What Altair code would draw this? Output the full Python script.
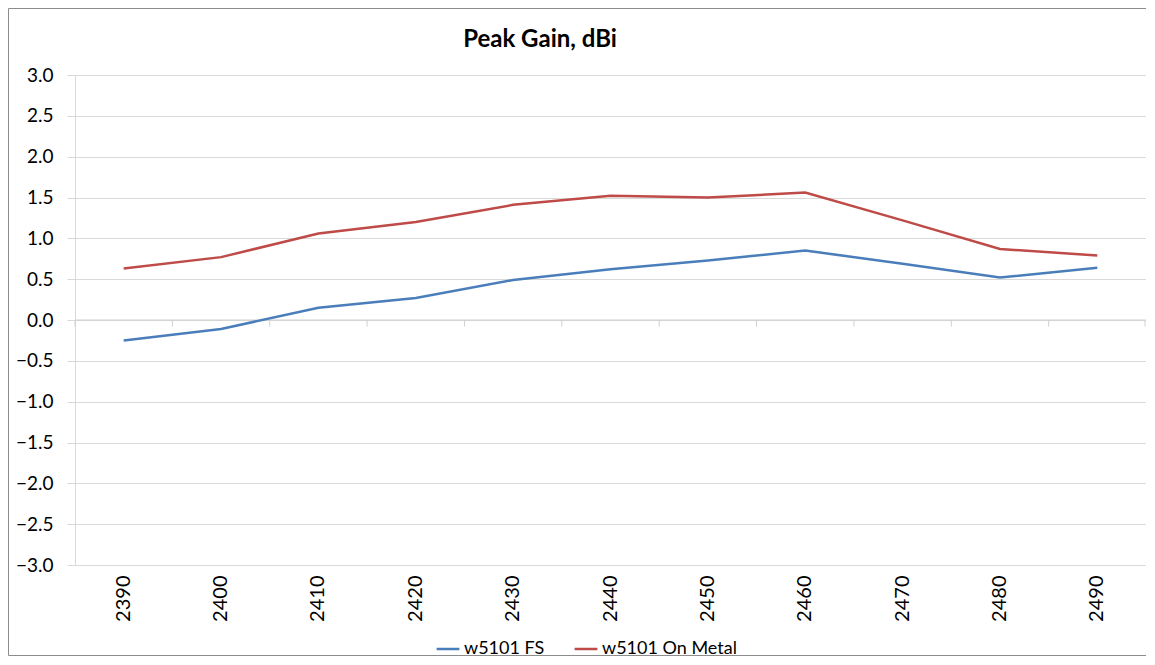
import altair as alt
import pandas as pd

freqs = ["2390", "2400", "2410", "2420", "2430", "2440", "2450", "2460", "2470", "2480", "2490"]
fs_gain = [-0.25, -0.11, 0.15, 0.27, 0.49, 0.62, 0.73, 0.85, 0.69, 0.52, 0.64]
metal_gain = [0.63, 0.77, 1.06, 1.20, 1.41, 1.52, 1.50, 1.56, 1.22, 0.87, 0.79]
series_names = ["w5101 FS", "w5101 On Metal"]
series_colors = ["#4a7ebb", "#be4b48"]
y_ticks = [-3.0, -2.5, -2.0, -1.5, -1.0, -0.5, 0.0, 0.5, 1.0, 1.5, 2.0, 2.5, 3.0]
title_text = "Peak Gain, dBi"

rows = []
for f, v in zip(freqs, fs_gain):
    rows.append({"freq": f, "gain": v, "series": series_names[0]})
for f, v in zip(freqs, metal_gain):
    rows.append({"freq": f, "gain": v, "series": series_names[1]})
df = pd.DataFrame(rows)
cats = pd.DataFrame({"freq": freqs})
one = pd.DataFrame({"label": [title_text]})

W, H = 1071, 490
FONT = "Lato"

xscale = alt.Scale(type="band", domain=freqs, paddingInner=0, paddingOuter=0)
yscale = alt.Scale(domain=[-3, 3], nice=False, zero=False)
x_axis = alt.Axis(title=None, labelAngle=-90, labelPadding=10, ticks=False,
                  domain=False, grid=False, labelFont=FONT, labelFontSize=20,
                  labelColor="#000000")
y_axis = alt.Axis(title=None, values=y_ticks, format=".1f", grid=True,
                  gridColor="#d9d9d9", domainColor="#d9d9d9", tickColor="#d9d9d9",
                  tickSize=8, labelPadding=14, labelFont=FONT, labelFontSize=19,
                  labelColor="#000000")

lines = alt.Chart(df).mark_line(strokeWidth=2.5).encode(
    x=alt.X("freq:O", scale=xscale, sort=freqs, bandPosition=0.5, axis=x_axis),
    y=alt.Y("gain:Q", scale=yscale, axis=y_axis),
    color=alt.Color("series:N", scale=alt.Scale(domain=series_names, range=series_colors),
                    sort=series_names,
                    legend=alt.Legend(title=None, orient="none", legendX=360, legendY=561,
                                      direction="horizontal", symbolType="stroke",
                                      symbolStrokeWidth=2.5, symbolSize=520,
                                      labelFont=FONT, labelFontSize=18, labelColor="#000000",
                                      columnPadding=24, labelOffset=3)),
)

zero_line = alt.Chart(one).mark_rule(color="#d0d0d0", strokeWidth=1).encode(
    x=alt.value(0), x2=alt.value(W), y=alt.datum(0, scale=yscale)
)

ticks = alt.Chart(cats).mark_rule(color="#d0d0d0", strokeWidth=1).encode(
    x=alt.X("freq:O", scale=xscale, sort=freqs, bandPosition=0, axis=x_axis),
    y=alt.datum(0), y2=alt.datum(-0.08),
)

last_tick = alt.Chart(one).mark_rule(color="#d0d0d0", strokeWidth=1).encode(
    x=alt.value(W - 1), y=alt.datum(0), y2=alt.datum(-0.08)
)

frame = alt.Chart(one).mark_rect(fill=None, stroke="#8c8c8c", strokeWidth=1).encode(
    x=alt.value(-66.5), x2=alt.value(W + 20), y=alt.value(-66.5), y2=alt.value(580.5)
)

title = alt.Chart(one).mark_text(font=FONT, fontSize=24, fontWeight="bold",
                                 color="#000000", baseline="middle", align="center").encode(
    text="label:N", x=alt.value(465), y=alt.value(-35)
)

chart = alt.layer(frame, zero_line, ticks, last_tick, lines, title).properties(
    width=W, height=H,
    autosize=alt.AutoSizeParams(type="none"),
    padding={"left": 67, "top": 67, "right": 0, "bottom": 92},
).configure_view(stroke=None).configure(background="white")

chart.save("out.html", embed_options={"renderer": "svg", "actions": False})
